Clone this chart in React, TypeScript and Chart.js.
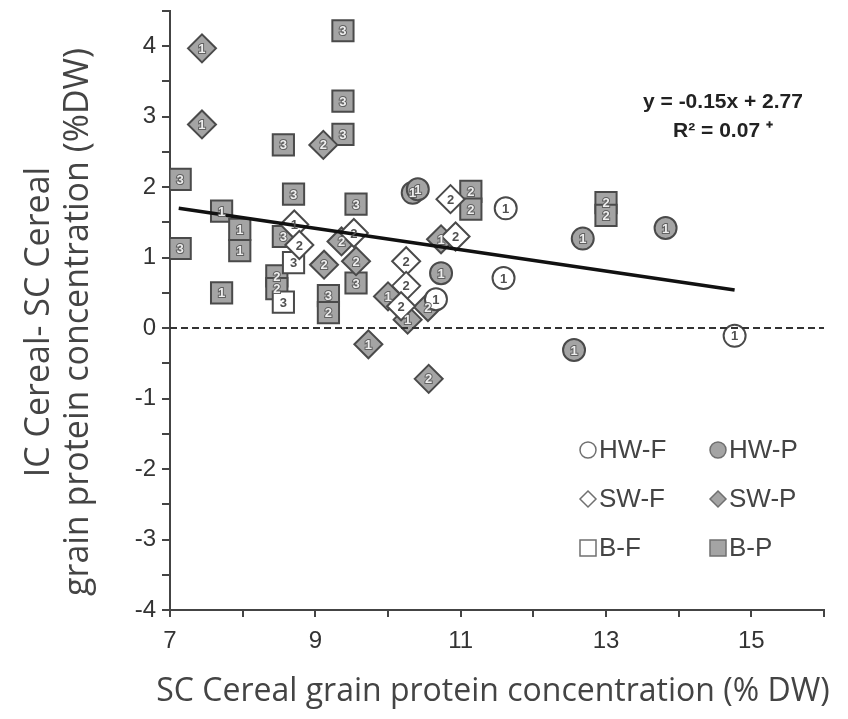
import React, { useEffect, useRef } from 'react';
import { Chart, registerables } from 'chart.js';
Chart.register(...registerables);

// ---- data ----
const hwF_x = [11.62, 11.59, 10.66, 14.77];
const hwF_y = [1.70, 0.71, 0.41, -0.11];
const hwF_lab = ['1', '1', '1', '1'];

const hwP_x = [10.34, 10.41, 10.73, 12.68, 13.82, 12.56];
const hwP_y = [1.92, 1.97, 0.78, 1.27, 1.42, -0.31];
const hwP_lab = ['1', '1', '1', '1', '1', '1'];

const swF_x = [8.71, 8.78, 9.53, 10.25, 10.25, 10.18, 10.86, 10.93];
const swF_y = [1.47, 1.18, 1.35, 0.95, 0.60, 0.31, 1.83, 1.30];
const swF_lab = ['1', '2', '2', '2', '2', '2', '2', '2'];

const swP_x = [7.44, 7.44, 9.11, 9.12, 9.36, 9.56, 9.73, 10.56, 10.0, 10.27, 10.73, 10.55];
const swP_y = [3.97, 2.89, 2.60, 0.90, 1.23, 0.95, -0.23, -0.72, 0.45, 0.12, 1.26, 0.30];
const swP_lab = ['1', '1', '2', '2', '2', '2', '1', '2', '1', '1', '1', '2'];

const bF_x = [8.70, 8.56];
const bF_y = [0.93, 0.37];
const bF_lab = ['3', '3'];

const bP_x = [9.38, 9.38, 9.38, 8.56, 7.14, 7.14, 7.71, 7.96, 7.96, 7.71, 8.70, 8.56, 8.47, 8.47, 9.18, 9.18, 9.56, 9.56, 11.14, 11.14, 13.0, 13.0];
const bP_y = [4.22, 3.22, 2.75, 2.60, 2.11, 1.13, 1.66, 1.40, 1.10, 0.50, 1.90, 1.30, 0.74, 0.56, 0.46, 0.22, 1.76, 0.64, 1.94, 1.69, 1.78, 1.60];
const bP_lab = ['3', '3', '3', '3', '3', '3', '1', '1', '1', '1', '3', '3', '2', '2', '3', '2', '3', '3', '2', '2', '2', '2'];

const fit_x = [7.12, 14.77];
const fit_y = [1.70, 0.54];
const zero_x = [7, 16];
const zero_y = [0, 0];

const xTickLabels = ['7', '9', '11', '13', '15'];
const yTickLabels = ['-4', '-3', '-2', '-1', '0', '1', '2', '3', '4'];

const equationText = ['y = -0.15x + 2.77', 'R\u00B2 = 0.07 \u207A'];
const xTitle = 'SC Cereal grain protein concentration (% DW)';
const yTitle = ['IC Cereal- SC Cereal', 'grain protein concentration (%DW)'];

const legendItems = [
  { label: 'HW-F', shape: 'circle', fill: '#ffffff' },
  { label: 'HW-P', shape: 'circle', fill: '#a4a4a4' },
  { label: 'SW-F', shape: 'diamond', fill: '#ffffff' },
  { label: 'SW-P', shape: 'diamond', fill: '#a4a4a4' },
  { label: 'B-F', shape: 'square', fill: '#ffffff' },
  { label: 'B-P', shape: 'square', fill: '#a4a4a4' },
];

const toPts = (xs: number[], ys: number[]) => xs.map((x, i) => ({ x, y: ys[i] }));

const GRAY = '#a4a4a4';
const EDGE = '#4a4a4a';
const SHIFT = 6; // canvas is placed SHIFT px above the page top
const CANVAS_H = 719 + SHIFT;

const pointLabelPlugin = {
  id: 'pointLabels',
  afterDatasetsDraw(chart: any) {
    const ctx = chart.ctx;
    ctx.save();
    ctx.font = 'bold 13px "Liberation Sans", Arial, sans-serif';
    ctx.textAlign = 'center';
    ctx.textBaseline = 'middle';
    chart.data.datasets.forEach((ds: any, di: number) => {
      if (!ds.pointLabels) return;
      const meta = chart.getDatasetMeta(di);
      meta.data.forEach((el: any, i: number) => {
        const t = ds.pointLabels[i];
        if (ds.filled) {
          ctx.lineWidth = 2;
          ctx.strokeStyle = '#606060';
          ctx.strokeText(t, el.x, el.y + 1);
          ctx.fillStyle = '#eeeeee';
          ctx.fillText(t, el.x, el.y + 1);
        } else {
          ctx.fillStyle = '#505050';
          ctx.fillText(t, el.x, el.y + 1);
        }
      });
    });
    ctx.restore();
  },
};

const decorPlugin = {
  id: 'decor',
  afterDraw(chart: any) {
    const ctx = chart.ctx;
    ctx.save();
    ctx.translate(0, SHIFT);
    // equation
    ctx.fillStyle = '#222';
    ctx.font = 'bold 21px "Liberation Sans", Arial, sans-serif';
    ctx.textAlign = 'center';
    ctx.textBaseline = 'middle';
    ctx.fillText(equationText[0], 723, 102);
    ctx.fillText(equationText[1], 723, 131);

    // legend
    ctx.font = '26px "Liberation Sans", Arial, sans-serif';
    ctx.textAlign = 'left';
    legendItems.forEach((it, i) => {
      const col = i % 2;
      const row = Math.floor(i / 2);
      const mx = col === 0 ? 588 : 718;
      const my = 450 + row * 49;
      ctx.beginPath();
      if (it.shape === 'circle') {
        ctx.arc(mx, my, 8, 0, Math.PI * 2);
      } else if (it.shape === 'diamond') {
        ctx.moveTo(mx, my - 8);
        ctx.lineTo(mx + 8, my);
        ctx.lineTo(mx, my + 8);
        ctx.lineTo(mx - 8, my);
        ctx.closePath();
      } else {
        ctx.rect(mx - 8, my - 8, 16, 16);
      }
      ctx.fillStyle = it.fill;
      ctx.fill();
      ctx.lineWidth = 1.5;
      ctx.strokeStyle = '#707070';
      ctx.stroke();
      ctx.fillStyle = '#444';
      ctx.fillText(it.label, mx + 11, my + 1);
    });

    // axis titles
    ctx.fillStyle = '#444';
    ctx.textAlign = 'center';
    ctx.textBaseline = 'middle';
    ctx.font = '32px "Open Sans", "Noto Sans", sans-serif';
    ctx.fillText(xTitle, 493, 692);
    ctx.save();
    ctx.font = '34px "Open Sans", "Noto Sans", sans-serif';
    ctx.translate(39, 322);
    ctx.rotate(-Math.PI / 2);
    ctx.fillText(yTitle[0], 0, 0);
    ctx.fillText(yTitle[1], 0, 39);
    ctx.restore();
    ctx.restore();
  },
};

export default function App() {
  const ref = useRef<HTMLCanvasElement | null>(null);
  useEffect(() => {
    document.body.style.margin = '0';
    const ctx = ref.current!.getContext('2d')!;
    const markerDs = (label: string, xs: number[], ys: number[], labs: string[], style: string, r: number, filled: boolean) => ({
      type: 'scatter' as const,
      label,
      data: toPts(xs, ys),
      pointStyle: style,
      pointRadius: r,
      pointBackgroundColor: filled ? GRAY : '#ffffff',
      pointBorderColor: EDGE,
      pointBorderWidth: 2,
      showLine: false,
      pointLabels: labs,
      filled,
    });
    const chart = new Chart(ctx, {
      type: 'scatter',
      data: {
        datasets: [
          {
            type: 'line' as const,
            label: 'fit',
            data: toPts(fit_x, fit_y),
            borderColor: '#111',
            borderWidth: 3.5,
            pointRadius: 0,
            showLine: true,
          } as any,
          {
            type: 'line' as const,
            label: 'zero',
            data: toPts(zero_x, zero_y),
            borderColor: '#333',
            borderWidth: 2,
            borderDash: [7, 4],
            pointRadius: 0,
            showLine: true,
          } as any,
          markerDs('HW-F', hwF_x, hwF_y, hwF_lab, 'circle', 11, false),
          markerDs('HW-P', hwP_x, hwP_y, hwP_lab, 'circle', 11, true),
          markerDs('SW-F', swF_x, swF_y, swF_lab, 'rectRot', 14, false),
          markerDs('SW-P', swP_x, swP_y, swP_lab, 'rectRot', 14, true),
          markerDs('B-F', bF_x, bF_y, bF_lab, 'rect', 15, false),
          markerDs('B-P', bP_x, bP_y, bP_lab, 'rect', 15, true),
        ] as any,
      },
      options: {
        animation: false,
        responsive: false,
        events: [],
        layout: { padding: { top: 3, right: 24, left: 0, bottom: 0 } },
        plugins: { legend: { display: false }, tooltip: { enabled: false } },
        scales: {
          x: {
            type: 'linear',
            min: 7,
            max: 16,
            afterFit: (s: any) => { s.height = 109; s.paddingLeft = 0; s.paddingRight = 0; },
            ticks: {
              stepSize: 1,
              autoSkip: false,
              maxRotation: 0,
              padding: 10,
              color: '#333',
              font: { family: '"Liberation Sans", Arial, sans-serif', size: 24 },
              callback: (v: any) => {
                const s = String(v);
                return xTickLabels.includes(s) ? s : '';
              },
            },
            grid: { drawOnChartArea: false, drawTicks: true, tickLength: 7, color: '#444', lineWidth: 2 },
            border: { color: '#444', width: 2 },
          },
          y: {
            type: 'linear',
            min: -4,
            max: 4.5,
            afterFit: (s: any) => { s.width = 170; s.paddingTop = 0; s.paddingBottom = 0; },
            ticks: {
              stepSize: 0.5,
              autoSkip: false,
              padding: 6,
              color: '#333',
              font: { family: '"Liberation Sans", Arial, sans-serif', size: 24 },
              callback: (v: any) => {
                const s = String(v);
                return yTickLabels.includes(s) ? s : '';
              },
            },
            grid: { drawOnChartArea: false, drawTicks: true, tickLength: 8, color: '#444', lineWidth: 2 },
            border: { color: '#444', width: 2 },
          },
        },
      } as any,
      plugins: [pointLabelPlugin, decorPlugin],
    });
    return () => chart.destroy();
  }, []);
  return (
    <div style={{ position: 'absolute', left: 0, top: 0, width: 848, height: 719, overflow: 'hidden', background: '#fff' }}>
      <canvas
        ref={ref}
        width={848}
        height={CANVAS_H}
        style={{ position: 'absolute', left: 0, top: -SHIFT, width: 848, height: CANVAS_H, display: 'block' }}
      />
    </div>
  );
}
